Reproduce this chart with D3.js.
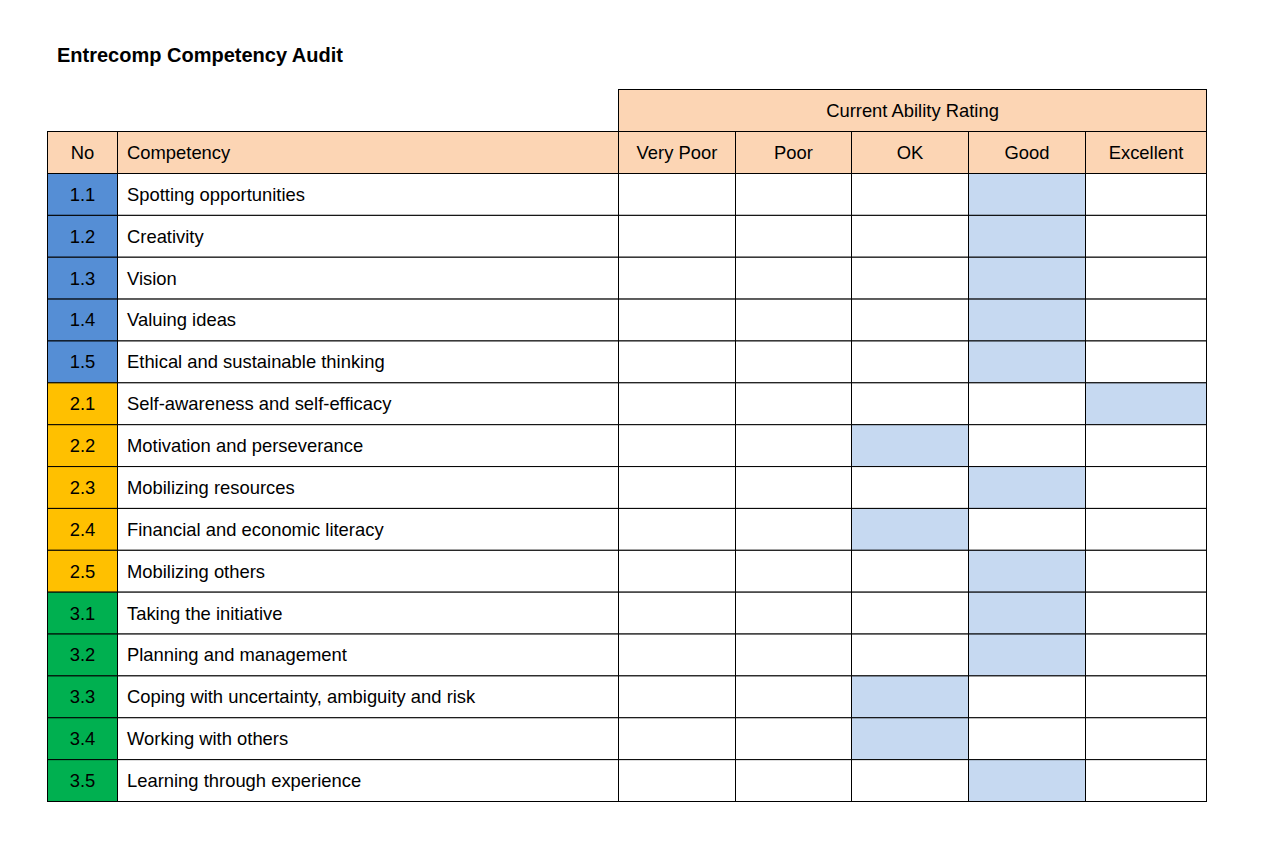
<!DOCTYPE html>
<html>
<head>
<meta charset="utf-8">
<script src="https://cdn.jsdelivr.net/npm/d3@7"></script>
<style>
	body { margin: 0; background: #fff; }
	text { font-family: "Liberation Sans", Arial, sans-serif; }
</style>
</head>
<body>
<div id="my_dataviz"></div>
<script>
// daten
var title = "Entrecomp Competency Audit";
var groupTitle = "Current Ability Rating";
var ratings = ["Very Poor", "Poor", "OK", "Good", "Excellent"];
var numbers = ["1.1", "1.2", "1.3", "1.4", "1.5", "2.1", "2.2", "2.3", "2.4", "2.5", "3.1", "3.2", "3.3", "3.4", "3.5"];
var competencies = ["Spotting opportunities", "Creativity", "Vision", "Valuing ideas",
	"Ethical and sustainable thinking", "Self-awareness and self-efficacy",
	"Motivation and perseverance", "Mobilizing resources", "Financial and economic literacy",
	"Mobilizing others", "Taking the initiative", "Planning and management",
	"Coping with uncertainty, ambiguity and risk", "Working with others", "Learning through experience"];
var chosen = ["Good", "Good", "Good", "Good", "Good", "Excellent", "OK", "Good", "OK", "Good",
	"Good", "Good", "OK", "OK", "Good"];

var width = 1280, height = 852;
var headColor = "#fcd5b4", markColor = "#c6d9f1";
var areaColor = { "1": "#558ed5", "2": "#ffc000", "3": "#00b050" };

var svg = d3.select("#my_dataviz")
	.append("svg")
	.attr("width", width)
	.attr("height", height);

// Spalten (Kanten wie in der Vorlage, nicht ganz gleich breit)
var colNo = { x0: 47.5, x1: 117.5 };
var colComp = { x0: 117.5, x1: 618.5 };
var edges = [618.5, 735.5, 851.5, 968.5, 1085.5, 1206.5];
var x = d3.scaleOrdinal().domain(ratings).range(edges.slice(0, 5));
var x2 = d3.scaleOrdinal().domain(ratings).range(edges.slice(1));

// Zeilen
var y = d3.scaleBand().domain(numbers).range([173.5, 801.5]);
var head1 = { y0: 89.5, y1: 131.5 }, head2 = { y0: 131.5, y1: 173.5 };

function cell(x0, x1, y0, y1, fill, label, anchor) {
	svg.append("rect")
		.attr("x", x0).attr("y", y0)
		.attr("width", x1 - x0).attr("height", y1 - y0)
		.attr("fill", fill)
		.attr("stroke", "#000")
		.attr("stroke-width", 1);
	if (label) {
		svg.append("text")
			.attr("x", anchor == "start" ? x0 + 9.5 : (x0 + x1) / 2)
			.attr("y", (y0 + y1) / 2)
			.attr("dy", "0.35em")
			.attr("text-anchor", anchor || "middle")
			.style("font-size", "18.4px")
			.attr("fill", "#000")
			.text(label);
	}
}

// Überschrift
svg.append("text")
	.attr("x", 57)
	.attr("y", 62)
	.style("font-size", "20px")
	.style("font-weight", "bold")
	.text(title);

// Kopfzeilen
cell(edges[0], edges[5], head1.y0, head1.y1, headColor, groupTitle);
cell(colNo.x0, colNo.x1, head2.y0, head2.y1, headColor, "No");
cell(colComp.x0, colComp.x1, head2.y0, head2.y1, headColor, "Competency", "start");
ratings.forEach(function(r) {
	cell(x(r), x2(r), head2.y0, head2.y1, headColor, r);
});

// Datenzeilen
numbers.forEach(function(n, i) {
	var y0 = y(n), y1 = y(n) + y.bandwidth();
	cell(colNo.x0, colNo.x1, y0, y1, areaColor[n.charAt(0)], n);
	cell(colComp.x0, colComp.x1, y0, y1, "#fff", competencies[i], "start");
	ratings.forEach(function(r) {
		cell(x(r), x2(r), y0, y1, chosen[i] == r ? markColor : "#fff");
	});
});
</script>
</body>
</html>
